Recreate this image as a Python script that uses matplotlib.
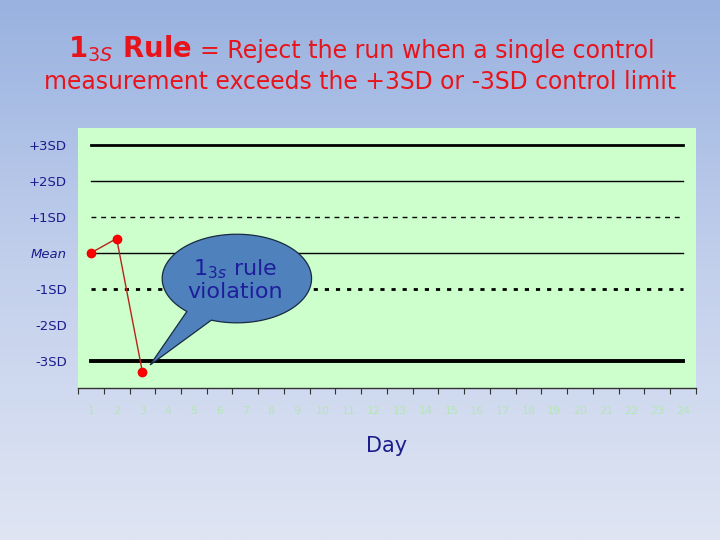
import numpy as np
import matplotlib
matplotlib.use('Agg')
import matplotlib.pyplot as plt
from matplotlib.patches import Polygon
from matplotlib.colors import LinearSegmentedColormap

# data
days = list(range(1, 25))
day_labels = [str(d) for d in days]
sd_levels = [3, 2, 1, 0, -1, -2, -3]
sd_labels = ['+3SD', '+2SD', '+1SD', 'Mean', '-1SD', '-2SD', '-3SD']
obs_days = [1, 2, 3]
obs_values = [0.0, 0.4, -3.3]

# control lines: level, width, style (no -2SD line in the original)
ctrl_levels = [3, 2, 1, 0, -1, -3]
ctrl_widths = [2.0, 1.0, 1.0, 1.0, 2.0, 2.8]
ctrl_styles = ['-', '-', (0, (3.5, 3.5)), '-', (0, (1.5, 2.5)), '-']

NAVY = '#1c1c8c'
RED = '#e8141c'

fig = plt.figure(figsize=(7.2, 5.4), dpi=100)

# gradient background
bg = fig.add_axes([0, 0, 1, 1], zorder=-10)
grad = np.linspace(0, 1, 256).reshape(-1, 1)
cmap = LinearSegmentedColormap.from_list('bg', ['#99b2e0', '#c3d0ec', '#dfe5f3'])
bg.imshow(grad, aspect='auto', cmap=cmap, extent=[0, 1, 0, 1], origin='upper')
bg.set_axis_off()

ax = fig.add_axes([78 / 720, 1 - 388 / 540, 618 / 720, 260 / 540])
ax.set_facecolor('#ccffcc')
ax.set_xlim(0.5, 24.5)
ax.set_ylim(-3.75, 3.47)

for lvl, lw, ls in zip(ctrl_levels, ctrl_widths, ctrl_styles):
    ax.plot([days[0], days[-1]], [lvl, lvl], color='black', lw=lw, linestyle=ls, zorder=2)

ax.plot(obs_days, obs_values, color='#b82418', lw=1.0, marker='o', markersize=6,
        markerfacecolor='#ff0000', markeredgecolor='#ee0000', zorder=5)

# callout bubble (ellipse + tail as one outline)
cx, cy, a, b = 6.67, -0.71, 2.9, 1.23
th = np.radians(np.linspace(250, 250 + 338, 200))
ex = cx + a * np.cos(th)
ey = cy + b * np.sin(th)
pts = list(zip(ex, ey)) + [(3.3, -3.11)]
bubble = Polygon(pts, closed=True, facecolor='#4f81bd', edgecolor='#1a2a40',
                 lw=0.9, zorder=7)
ax.add_patch(bubble)
ax.text(6.6, -0.74, '1$_{3s}$ rule\nviolation', color='#1e1e9c', fontsize=16,
        ha='center', va='center', linespacing=1.1, zorder=9)

# axes styling
for s in ['top', 'right', 'left']:
    ax.spines[s].set_visible(False)
ax.spines['bottom'].set_color('#333333')
ax.spines['bottom'].set_linewidth(1.0)

edges = np.arange(0.5, 25, 1)
ax.set_xticks(edges)
ax.set_xticklabels([])
ax.tick_params(axis='x', which='major', length=4, color='#333333', direction='out')
ax.set_xticks(days, minor=True)
ax.set_xticklabels(day_labels, minor=True)
ax.tick_params(axis='x', which='minor', length=0, labelsize=8, labelcolor='#b4e6b4', pad=13)

ax.set_yticks(sd_levels)
ax.set_yticklabels(sd_labels)
ax.tick_params(axis='y', length=0, labelsize=9.5, labelcolor=NAVY, pad=8)
for lab in ax.get_yticklabels():
    if lab.get_text() == 'Mean':
        lab.set_style('italic')

ax.set_xlabel('Day', color=NAVY, fontsize=15, labelpad=14)

# title, font sizes fitted to the widths of the original lines
fig.canvas.draw()
r = fig.canvas.get_renderer()


def fitted(t, target_px):
    w = t.get_window_extent(renderer=r).width
    t.set_fontsize(t.get_fontsize() * target_px / w)
    return t


t1 = fig.text(68 / 720, 1 - 57 / 540, '1$_{3S}$ Rule', color=RED, fontsize=19,
              fontweight='bold', ha='left', va='baseline')
fitted(t1, 124)
t2 = fig.text(200 / 720, 1 - 58 / 540, '= Reject the run when a single control',
              color=RED, fontsize=14, ha='left', va='baseline')
fitted(t2, 455)
t3 = fig.text(360 / 720, 1 - 89 / 540,
              'measurement exceeds the +3SD or -3SD control limit',
              color=RED, fontsize=14, ha='center', va='baseline')
fitted(t3, 635)

fig.savefig('out.png', dpi=100)
